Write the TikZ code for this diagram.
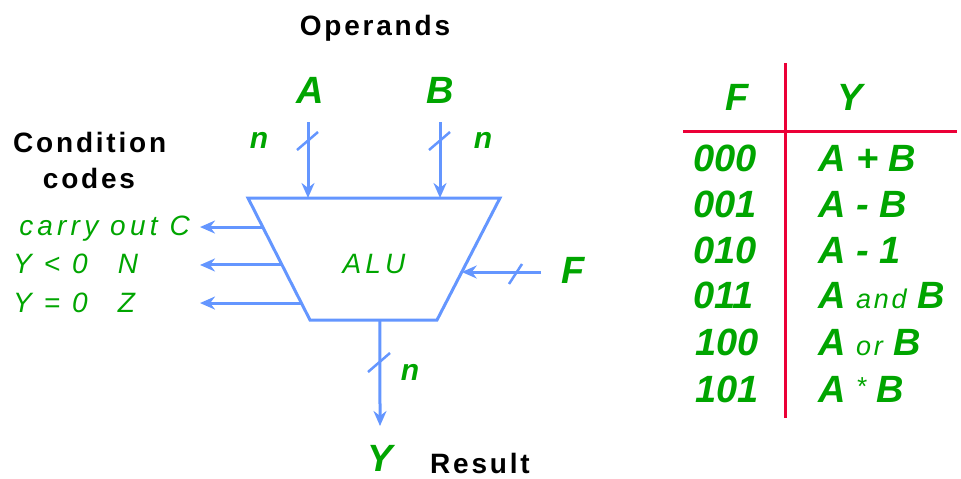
\documentclass[tikz,border=0pt]{standalone}
\usepackage{fontspec}
\setmainfont{Liberation Sans}
\newfontfamily\spacedbf[LetterSpace=10]{Liberation Sans}
\newfontfamily\spacedit[LetterSpace=15]{Liberation Sans}
\newfontfamily\spacedsm[LetterSpace=10]{Liberation Sans}
\usetikzlibrary{arrows.meta,calc}
\definecolor{grn}{RGB}{0,165,0}
\definecolor{blu}{RGB}{100,150,255}
\definecolor{rd}{RGB}{235,0,55}
\tikzset{
  blk/.style={font=\spacedbf\fontsize{28}{30}\selectfont\bfseries, text=black, inner sep=0pt},
  big/.style={font=\fontsize{38}{40}\selectfont\bfseries\itshape, text=grn, inner sep=0pt},
  nn/.style={font=\fontsize{30}{32}\selectfont\bfseries\itshape, text=grn, inner sep=0pt},
  lab/.style={font=\spacedit\fontsize{28}{30}\selectfont\itshape, text=grn, inner sep=0pt},
  wire/.style={draw=blu, line width=3pt, -{Stealth[length=15pt,width=13pt]}},
  tick/.style={draw=blu, line width=2.5pt},
  tbl/.style={draw=rd, line width=3pt},
}
\begin{document}
\begin{tikzpicture}[x=1pt,y=-1pt]
\useasboundingbox (0,0) rectangle (961,479);
% ALU body
\coordinate (tl) at (248,198);
\coordinate (tr) at (500,198);
\coordinate (br) at (437,320);
\coordinate (bl) at (310,320);
\draw[blu, line width=3pt, line join=miter] (tl) -- (tr) -- (br) -- (bl) -- cycle;
\node[lab, anchor=base] (alu) at (374,273) {ALU};
% operands
\node[blk, anchor=base] (ops) at (375,35) {Operands};
\node[big, anchor=base] (a) at (310,103) {A};
\node[big, anchor=base] (b) at (440,103) {B};
\coordinate (ain) at (308,122);
\coordinate (bin) at (440,122);
\draw[wire] (ain) -- (ain |- tl);
\draw[wire] (bin) -- (bin |- tl);
\draw[tick] (297,150) -- (318,132);
\draw[tick] (429,150) -- (450,132);
\node[nn, anchor=base] (na) at (259,148) {n};
\node[nn, anchor=base] (nb) at (483,148) {n};
% function input
\node[big, anchor=base] (f) at (573,283) {F};
\coordinate (fin) at (541,272);
\coordinate (fe) at ($(tr)!0.607!(br)$);
\draw[wire] (fin) -- (fe |- fin);
\draw[tick] (509,284) -- (522,264);
% condition outputs
\node[blk, anchor=base west] (cond) at (13,152) {Condition};
\node[blk, anchor=base] (codes) at (89,188) {codes};
\coordinate (c1) at ($(tl)!0.238!(bl)$);
\coordinate (c2) at ($(tl)!0.549!(bl)$);
\coordinate (c3) at ($(tl)!0.861!(bl)$);
\coordinate (e1) at (200,0);
\draw[wire] (c1) -- (c1 -| e1);
\draw[wire] (c2) -- (c2 -| e1);
\draw[wire] (c3) -- (c3 -| e1);
\node[lab, anchor=base east] (lc) at (190,235) {carry out C};
\node[lab, anchor=base west] (ln) at (13,273) {Y < 0\hspace{30pt}N};
\node[lab, anchor=base west] (lz) at (13,312) {Y = 0\hspace{30pt}Z};
% result
\coordinate (yo) at ($(bl)!0.551!(br)$);
\coordinate (yend) at (380,426);
\draw[wire] (yo) -- (yend);
\draw[tick] (368,372) -- (390,353);
\node[nn, anchor=base] (ny) at (410,380) {n};
\node[big, anchor=base] (y) at (380,471) {Y};
\node[blk, anchor=base west] (res) at (430,473) {Result};
% table
\coordinate (vt) at (785,63);
\coordinate (vb) at (785,418);
\coordinate (hl) at (683,131);
\coordinate (hr) at (957,131);
\draw[tbl] (vt) -- (vb);
\draw[tbl] (hl) -- (hr);
\node[big, anchor=base] (hf) at (737,110) {F};
\node[big, anchor=base] (hy) at (850,110) {Y};
\node[big, anchor=base west] (f0) at (693,171) {000};
\node[big, anchor=base west] (f1) at (693,217) {001};
\node[big, anchor=base west] (f2) at (693,263) {010};
\node[big, anchor=base west] (f3) at (693,308) {011};
\node[big, anchor=base west] (f4) at (695,355) {100};
\node[big, anchor=base west] (f5) at (695,402) {101};
\node[big, anchor=base west] (y0) at (818,171) {A + B};
\node[big, anchor=base west] (y1) at (818,217) {A - B};
\node[big, anchor=base west] (y2) at (818,263) {A - 1};
\node[big, anchor=base west] (y3) at (818,308) {A {\spacedsm\fontsize{27}{28}\selectfont\mdseries\itshape and} B};
\node[big, anchor=base west] (y4) at (818,355) {A {\spacedsm\fontsize{27}{28}\selectfont\mdseries\itshape or} B};
\node[big, anchor=base west] (y5) at (818,402) {A \raisebox{7pt}{\fontsize{26}{28}\selectfont\mdseries *} B};
\end{tikzpicture}
\end{document}
